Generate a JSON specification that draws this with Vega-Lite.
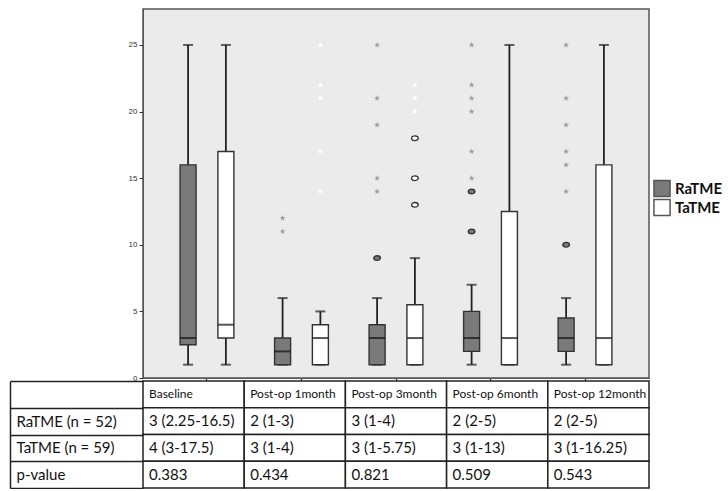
{
  "$schema": "https://vega.github.io/schema/vega-lite/v6.json",
  "padding": {"left": 9, "top": 8, "right": 0, "bottom": 0},
  "config": {"view": {"stroke": null}, "font": "Lato"},
  "datasets": {
    "boxes": [
      {"group": "Baseline", "arm": "RaTME", "lo": 1, "q1": 2.5, "med": 3, "q3": 16, "hi": 25},
      {"group": "Baseline", "arm": "TaTME", "lo": 1, "q1": 3, "med": 4, "q3": 17, "hi": 25},
      {"group": "Post-op 1month", "arm": "RaTME", "lo": 1, "q1": 1, "med": 2, "q3": 3, "hi": 6},
      {"group": "Post-op 1month", "arm": "TaTME", "lo": 1, "q1": 1, "med": 3, "q3": 4, "hi": 5},
      {"group": "Post-op 3month", "arm": "RaTME", "lo": 1, "q1": 1, "med": 3, "q3": 4, "hi": 6},
      {"group": "Post-op 3month", "arm": "TaTME", "lo": 1, "q1": 1, "med": 3, "q3": 5.5, "hi": 9},
      {"group": "Post-op 6month", "arm": "RaTME", "lo": 1, "q1": 2, "med": 3, "q3": 5, "hi": 7},
      {"group": "Post-op 6month", "arm": "TaTME", "lo": 1, "q1": 1, "med": 3, "q3": 12.5, "hi": 25},
      {"group": "Post-op 12month", "arm": "RaTME", "lo": 1, "q1": 2, "med": 3, "q3": 4.5, "hi": 6},
      {"group": "Post-op 12month", "arm": "TaTME", "lo": 1, "q1": 1, "med": 3, "q3": 16, "hi": 25}
    ],
    "outliers": [
      {"group": "Post-op 1month", "arm": "RaTME", "kind": "*", "value": 12},
      {"group": "Post-op 1month", "arm": "RaTME", "kind": "*", "value": 11},
      {"group": "Post-op 1month", "arm": "TaTME", "kind": "*", "value": 25},
      {"group": "Post-op 1month", "arm": "TaTME", "kind": "*", "value": 22},
      {"group": "Post-op 1month", "arm": "TaTME", "kind": "*", "value": 21},
      {"group": "Post-op 1month", "arm": "TaTME", "kind": "*", "value": 17},
      {"group": "Post-op 1month", "arm": "TaTME", "kind": "*", "value": 14},
      {"group": "Post-op 3month", "arm": "RaTME", "kind": "o", "value": 9},
      {"group": "Post-op 3month", "arm": "RaTME", "kind": "*", "value": 25},
      {"group": "Post-op 3month", "arm": "RaTME", "kind": "*", "value": 21},
      {"group": "Post-op 3month", "arm": "RaTME", "kind": "*", "value": 19},
      {"group": "Post-op 3month", "arm": "RaTME", "kind": "*", "value": 15},
      {"group": "Post-op 3month", "arm": "RaTME", "kind": "*", "value": 14},
      {"group": "Post-op 3month", "arm": "TaTME", "kind": "o", "value": 18},
      {"group": "Post-op 3month", "arm": "TaTME", "kind": "o", "value": 15},
      {"group": "Post-op 3month", "arm": "TaTME", "kind": "o", "value": 13},
      {"group": "Post-op 3month", "arm": "TaTME", "kind": "*", "value": 22},
      {"group": "Post-op 3month", "arm": "TaTME", "kind": "*", "value": 21},
      {"group": "Post-op 3month", "arm": "TaTME", "kind": "*", "value": 20},
      {"group": "Post-op 6month", "arm": "RaTME", "kind": "o", "value": 14},
      {"group": "Post-op 6month", "arm": "RaTME", "kind": "o", "value": 11},
      {"group": "Post-op 6month", "arm": "RaTME", "kind": "*", "value": 25},
      {"group": "Post-op 6month", "arm": "RaTME", "kind": "*", "value": 22},
      {"group": "Post-op 6month", "arm": "RaTME", "kind": "*", "value": 21},
      {"group": "Post-op 6month", "arm": "RaTME", "kind": "*", "value": 20},
      {"group": "Post-op 6month", "arm": "RaTME", "kind": "*", "value": 17},
      {"group": "Post-op 6month", "arm": "RaTME", "kind": "*", "value": 15},
      {"group": "Post-op 12month", "arm": "RaTME", "kind": "o", "value": 10},
      {"group": "Post-op 12month", "arm": "RaTME", "kind": "*", "value": 25},
      {"group": "Post-op 12month", "arm": "RaTME", "kind": "*", "value": 21},
      {"group": "Post-op 12month", "arm": "RaTME", "kind": "*", "value": 19},
      {"group": "Post-op 12month", "arm": "RaTME", "kind": "*", "value": 17},
      {"group": "Post-op 12month", "arm": "RaTME", "kind": "*", "value": 16},
      {"group": "Post-op 12month", "arm": "RaTME", "kind": "*", "value": 14}
    ],
    "table": [
      {"col": "Baseline", "row": " ", "text": "Baseline"},
      {"col": "Baseline", "row": "RaTME (n = 52)", "text": "3 (2.25-16.5)"},
      {"col": "Baseline", "row": "TaTME (n = 59)", "text": "4 (3-17.5)"},
      {"col": "Baseline", "row": "p-value", "text": "0.383"},
      {"col": "Post-op 1month", "row": " ", "text": "Post-op 1month"},
      {"col": "Post-op 1month", "row": "RaTME (n = 52)", "text": "2 (1-3)"},
      {"col": "Post-op 1month", "row": "TaTME (n = 59)", "text": "3 (1-4)"},
      {"col": "Post-op 1month", "row": "p-value", "text": "0.434"},
      {"col": "Post-op 3month", "row": " ", "text": "Post-op 3month"},
      {"col": "Post-op 3month", "row": "RaTME (n = 52)", "text": "3 (1-4)"},
      {"col": "Post-op 3month", "row": "TaTME (n = 59)", "text": "3 (1-5.75)"},
      {"col": "Post-op 3month", "row": "p-value", "text": "0.821"},
      {"col": "Post-op 6month", "row": " ", "text": "Post-op 6month"},
      {"col": "Post-op 6month", "row": "RaTME (n = 52)", "text": "2 (2-5)"},
      {"col": "Post-op 6month", "row": "TaTME (n = 59)", "text": "3 (1-13)"},
      {"col": "Post-op 6month", "row": "p-value", "text": "0.509"},
      {"col": "Post-op 12month", "row": " ", "text": "Post-op 12month"},
      {"col": "Post-op 12month", "row": "RaTME (n = 52)", "text": "2 (2-5)"},
      {"col": "Post-op 12month", "row": "TaTME (n = 59)", "text": "3 (1-16.25)"},
      {"col": "Post-op 12month", "row": "p-value", "text": "0.543"}
    ]
  },
  "spacing": 3,
  "bounds": "flush",
  "resolve": {"legend": {"fill": "independent"}, "scale": {"fill": "independent"}},
  "vconcat": [
    {
      "width": 506,
      "height": 369,
      "view": {"fill": "#ebebeb", "stroke": "#555555", "strokeWidth": 1.5},
      "encoding": {
        "x": {
          "field": "group", "type": "nominal", "title": null,
          "sort": ["Baseline", "Post-op 1month", "Post-op 3month", "Post-op 6month", "Post-op 12month"],
          "scale": {"paddingInner": 0.2, "paddingOuter": 0.277},
          "axis": {"labels": false, "ticks": true, "tickSize": 3, "bandPosition": 0.5, "domainColor": "#555555", "tickColor": "#333333", "tickWidth": 1.3, "minExtent": 0, "maxExtent": 3}
        },
        "xOffset": {"field": "arm", "type": "nominal", "sort": ["RaTME", "TaTME"]}
      },
      "layer": [
        {
          "data": {"name": "boxes"},
          "mark": {"type": "rule", "color": "#222222", "strokeWidth": 1.8},
          "encoding": {
            "y": {
              "field": "lo", "type": "quantitative", "title": null,
              "scale": {"domain": [0, 27.7], "nice": false, "zero": false},
              "axis": {"values": [0, 5, 10, 15, 20, 25], "labelFontSize": 8, "labelFont": "Liberation Sans", "labelColor": "#333333", "tickSize": 4, "tickColor": "#333333", "domainColor": "#555555", "grid": false, "labelPadding": 2}
            },
            "y2": {"field": "hi"}
          }
        },
        {
          "data": {"name": "boxes"},
          "transform": [{"fold": ["lo", "hi"], "as": ["end", "v"]}],
          "mark": {"type": "tick", "size": 10, "thickness": 2, "color": "#222222"},
          "encoding": {"y": {"field": "v", "type": "quantitative", "title": null}}
        },
        {
          "data": {"name": "boxes"},
          "mark": {"type": "bar", "size": 16, "stroke": "#333333", "strokeWidth": 1.4},
          "encoding": {
            "y": {"field": "q1", "type": "quantitative", "title": null},
            "y2": {"field": "q3"},
            "fill": {
              "field": "arm", "type": "nominal",
              "scale": {"domain": ["RaTME", "TaTME"], "range": ["#7a7a7a", "#ffffff"]},
              "legend": {"title": null, "orient": "none", "legendX": 510, "legendY": 170, "symbolType": "square", "symbolSize": 260, "symbolStrokeColor": "#555555", "symbolStrokeWidth": 1.5, "labelFontSize": 15, "labelFontWeight": "bold", "labelFont": "Lato", "labelColor": "#111111", "rowPadding": 0, "clipHeight": 19, "labelOffset": 4, "padding": 0}
            }
          }
        },
        {
          "data": {"name": "boxes"},
          "mark": {"type": "tick", "size": 16, "thickness": 2, "color": "#111111"},
          "encoding": {"y": {"field": "med", "type": "quantitative", "title": null}}
        },
        {
          "data": {"name": "outliers"},
          "transform": [{"filter": "datum.kind === 'o'"}],
          "mark": {"type": "point", "filled": true, "shape": "M-1,0A1,0.7,0,1,0,1,0A1,0.7,0,1,0,-1,0Z", "size": 45, "stroke": "#333333", "strokeWidth": 1.3, "opacity": 1},
          "encoding": {
            "y": {"field": "value", "type": "quantitative", "title": null},
            "fill": {"condition": {"test": "datum.arm === 'RaTME'", "value": "#7a7a7a"}, "value": "#ffffff"}
          }
        },
        {
          "data": {"name": "outliers"},
          "transform": [{"filter": "datum.kind === '*'"}],
          "mark": {"type": "point", "filled": true, "shape": "M0,-1L0.235,-0.324L0.951,-0.309L0.38,0.124L0.588,0.809L0,0.4L-0.588,0.809L-0.38,0.124L-0.951,-0.309L-0.235,-0.324Z", "size": 40, "strokeWidth": 0, "opacity": 1},
          "encoding": {
            "y": {"field": "value", "type": "quantitative", "title": null},
            "fill": {"condition": {"test": "datum.arm === 'RaTME'", "value": "#9f9f9f"}, "value": "#ffffff"}
          }
        }
      ]
    },
    {
      "width": 506,
      "height": 107,
      "data": {"name": "table"},
      "resolve": {"axis": {"y": "independent"}},
      "encoding": {
        "x": {"field": "col", "type": "nominal", "sort": ["Baseline", "Post-op 1month", "Post-op 3month", "Post-op 6month", "Post-op 12month"], "scale": {"paddingInner": 0, "paddingOuter": 0}, "axis": null}
      },
      "layer": [
        {
          "mark": {"type": "rect", "fill": "#ffffff", "stroke": "#222222", "strokeWidth": 1.5},
          "encoding": {
            "y": {
              "field": "row", "type": "nominal", "title": null,
              "sort": [" ", "RaTME (n = 52)", "TaTME (n = 59)", "p-value"],
              "scale": {"paddingInner": 0, "paddingOuter": 0},
              "axis": {"orient": "left", "domain": false, "tickBand": "extent", "tickSize": 133, "tickWidth": 1.5, "tickColor": "#222222", "labelAlign": "left", "labelBaseline": "middle", "labelPadding": -6, "labelFontSize": 15, "labelFont": "Lato", "labelColor": "#111111", "labelLimit": 0}
            }
          }
        },
        {
          "mark": {"type": "text", "align": "left", "baseline": "middle", "dx": 6, "font": "Lato", "color": "#111111"},
          "encoding": {
            "x": {"field": "col", "type": "nominal", "sort": ["Baseline", "Post-op 1month", "Post-op 3month", "Post-op 6month", "Post-op 12month"], "bandPosition": 0, "axis": null},
            "y": {
              "field": "row", "type": "nominal", "title": null,
              "sort": [" ", "RaTME (n = 52)", "TaTME (n = 59)", "p-value"],
              "axis": {"orient": "left", "offset": 133, "labels": false, "ticks": false, "domain": true, "domainColor": "#222222", "domainWidth": 1.5}
            },
            "text": {"field": "text"},
            "size": {"condition": {"test": "datum.row === ' '", "value": 12}, "value": 15}
          }
        }
      ]
    }
  ]
}
